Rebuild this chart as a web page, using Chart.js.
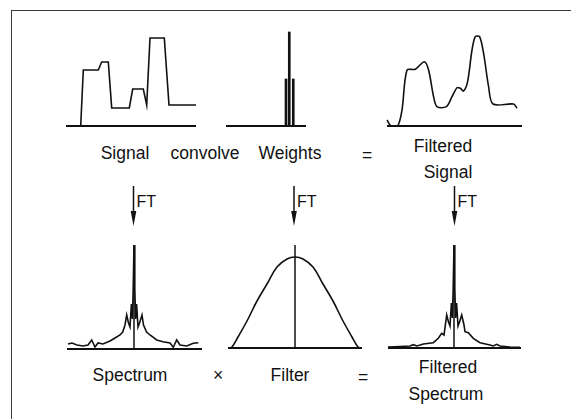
<!DOCTYPE html>
<html><head><meta charset="utf-8">
<script src="https://cdn.jsdelivr.net/npm/chart.js@4.4.0/dist/chart.umd.min.js"></script>
<style>
html,body{margin:0;padding:0;background:#fff;}
#stage{position:relative;width:571px;height:419px;overflow:hidden;background:#fff;font-family:"Liberation Sans",Arial,Helvetica,sans-serif;color:#111;}
#stage canvas{position:absolute;}
#frame{position:absolute;left:11px;top:10px;width:620px;height:480px;border-top:1.5px solid #3a3a3a;border-left:1.5px solid #3a3a3a;}
.lbl{position:absolute;font-size:17.5px;white-space:nowrap;line-height:1;transform:translate(-50%,-50%);}
#arrows{position:absolute;left:0;top:0;}
</style></head><body>
<div id="stage"><div id="frame"></div><svg id="arrows" width="571" height="419"></svg></div>
<script>
// ---- data ----
// Signal (time units, amplitude)
const signalTime = [0, 14.7, 17.3, 32.3, 35.7, 42.3, 45.7, 63.3, 66.7, 77.3, 80.7, 84, 98.3, 103, 130];
const signalAmp  = [0, 0,    56,   56,   64,   64,   18,   18,   37,   37,   21,   88, 88,   21,  21];
// Convolution weights (lag, weight)
const weightLags   = [-0.9, 0, 1.1];
const weightValues = [47, 94, 47];
// Filtered signal
const filteredTime = [0, 4, 10.6, 15, 20, 28.3, 37.3, 41.6, 46.6, 50, 59.3, 65, 70, 73.3, 76.6, 80.6, 85, 88.3, 92.6, 96.6, 101.6, 106, 126.6, 130];
const filteredAmp  = [6, 0, 0,    16, 56, 56.7, 64.3, 56,   29.3, 19.3, 19.3, 29.3, 38.3, 37.7, 35, 44.3, 76, 89.3, 89.3, 72.7, 39.3, 22, 22, 17.7];
// Spectrum (frequency, amplitude)
const spectrumFreq = [-66, -62, -57, -51, -46, -42.3, -39, -36, -31, -24, -19, -14, -11.3, -9, -7.3, -5.5, -4, -2.6, -1.6, -0.8, 0, 0.8, 1.6, 2.6, 4, 5.5, 8, 9.5, 12.6, 16, 22.7, 29, 36, 39.3, 42.7, 46, 52.7, 59.3, 64.3];
const spectrumAmp  = [5,   6,   4,   3,   4,   9,     2,   6,   5,   8,   11,  14,  17,    24, 34,   26,   22, 45,   30,   60,   104, 60, 30, 45, 22, 26, 34, 24, 17, 14, 9, 7.3, 6, 1.7, 9, 4, 3, 5.7, 6.3];
// Filter (frequency, gain)
const filterFreq = [-66, -63, -57, -48, -38, -28, -18, -8, 0, 8, 18, 28, 38, 48, 57, 63, 66];
const filterGain = [0,   1,   11,  27,  47,  64,  81,  89, 91, 89, 81, 64, 47, 27, 11, 1, 0];
// Filtered spectrum
const filteredSpecFreq = [-66, -54, -44, -40.7, -37, -30.7, -20.7, -15.7, -12.3, -10, -7.3, -5.5, -4, -2.6, -1.6, -0.8, 0, 0.8, 1.6, 2.6, 4, 5.5, 7.7, 10, 11, 14.3, 19.3, 26, 36, 39.3, 42.7, 46, 56, 66];
const filteredSpecAmp  = [1,   1.5, 2,   3.3,   2,   4,     5.3,   9.7,   14.7,  13,  33,   26,   22, 45,   30,   60,   103, 60, 30, 45, 22, 26, 33, 23, 16.3, 15.3, 9.7, 5.3, 3, 2, 3.7, 2, 1, 0.7];
// Text labels
const topLabels = ["Signal", "convolve", "Weights", "=", "Filtered", "Signal"];
const bottomLabels = ["Spectrum", "\u00d7", "Filter", "=", "Filtered", "Spectrum"];
const arrowLabel = "FT";

// ---- layout ----
const INK = '#111';
const panels = [
  {name:'signal',  left:66,  top:26,  w:130, h:100, xmin:0,   xmax:130, ymin:0, ymax:100, base:true, center:false},
  {name:'weights', left:226, top:26,  w:80,  h:100, xmin:-17.4, xmax:4.6, ymin:0, ymax:100, base:true, center:false},
  {name:'fsignal', left:387, top:26,  w:135, h:100, xmin:0,   xmax:135, ymin:0, ymax:100, base:true, center:false},
  {name:'spectrum',left:67,  top:245, w:135, h:104, xmin:-67, xmax:68,  ymin:0, ymax:104, base:true, center:true},
  {name:'filter',  left:228, top:245, w:134, h:103, xmin:-67, xmax:67,  ymin:0, ymax:103, base:true, center:true},
  {name:'fspec',   left:388, top:245, w:133, h:103, xmin:-66, xmax:67,  ymin:0, ymax:103, base:true, center:true}
];

function pts(xs, ys){ return xs.map((x,i)=>({x:x, y:ys[i]})); }

const guides = {
  id:'guides',
  afterDatasetsDraw(chart, args, opts){
    const {ctx, chartArea:a, scales:{x, y}} = chart;
    ctx.save();
    ctx.strokeStyle = INK;
    const y0 = y.getPixelForValue(0);
    if (opts.base){
      ctx.lineWidth = 1.8;
      ctx.beginPath(); ctx.moveTo(a.left, y0); ctx.lineTo(a.right, y0); ctx.stroke();
    }
    if (opts.center){
      const x0 = x.getPixelForValue(0);
      ctx.lineWidth = 1.5;
      ctx.beginPath(); ctx.moveTo(x0, a.top); ctx.lineTo(x0, y0); ctx.stroke();
    }
    ctx.restore();
  }
};

const datasetsFor = {
  signal:  [{type:'line', data:pts(signalTime, signalAmp), tension:0}],
  weights: [{type:'bar', data:pts(weightLags, weightValues), barThickness:2, backgroundColor:INK, borderWidth:0}],
  fsignal: [{type:'line', data:pts(filteredTime, filteredAmp), tension:0.3}],
  spectrum:[{type:'line', data:pts(spectrumFreq, spectrumAmp), tension:0}],
  filter:  [{type:'line', data:pts(filterFreq, filterGain), tension:0.4}],
  fspec:   [{type:'line', data:pts(filteredSpecFreq, filteredSpecAmp), tension:0}]
};

const stage = document.getElementById('stage');
const PAD = 4;
panels.forEach(p => {
  const c = document.createElement('canvas');
  c.width = p.w + 2*PAD; c.height = p.h + 2*PAD;
  c.style.left = (p.left - PAD) + 'px'; c.style.top = (p.top - PAD) + 'px';
  c.style.width = c.width + 'px'; c.style.height = c.height + 'px';
  stage.appendChild(c);
  const ds = datasetsFor[p.name].map(d => Object.assign({borderColor:INK, borderWidth:1.6, pointRadius:0, fill:false, clip:false}, d));
  new Chart(c, {
    data:{datasets:ds},
    options:{
      responsive:false, animation:false, devicePixelRatio:1,
      layout:{padding:PAD},
      plugins:{legend:{display:false}, tooltip:{enabled:false}, guides:{base:p.base, center:p.center}},
      scales:{
        x:{type:'linear', display:false, min:p.xmin, max:p.xmax, offset:false},
        y:{type:'linear', display:false, min:p.ymin, max:p.ymax}
      }
    },
    plugins:[guides]
  });
});

// labels
function addLabel(text, cx, cy, size){
  const d = document.createElement('div');
  d.className = 'lbl'; d.textContent = text;
  d.style.left = cx + 'px'; d.style.top = cy + 'px';
  if (size) d.style.fontSize = size + 'px';
  stage.appendChild(d);
}
const topPos = [[125,154],[205,154],[290,154],[367,156],[443,147],[448,173]];
topLabels.forEach((t,i)=>addLabel(t, topPos[i][0], topPos[i][1]));
const botPos = [[130,376],[218,376],[290,376],[363,378],[448,368],[446,395]];
bottomLabels.forEach((t,i)=>addLabel(t, botPos[i][0], botPos[i][1]));

// arrows with FT
const svg = document.getElementById('arrows');
const NS = 'http://www.w3.org/2000/svg';
[133.5, 294, 454.5].forEach(x => {
  const l = document.createElementNS(NS,'line');
  l.setAttribute('x1',x); l.setAttribute('x2',x); l.setAttribute('y1',186); l.setAttribute('y2',214);
  l.setAttribute('stroke',INK); l.setAttribute('stroke-width',1.5);
  svg.appendChild(l);
  const h = document.createElementNS(NS,'polygon');
  h.setAttribute('points', `${x-2.8},${211} ${x+2.8},${211} ${x},${226}`);
  h.setAttribute('fill',INK);
  svg.appendChild(h);
  const d = document.createElement('div');
  d.className='lbl'; d.textContent = arrowLabel; d.style.fontSize='16px';
  d.style.transform='translate(0,-50%)';
  d.style.left=(x+3)+'px'; d.style.top='202px';
  stage.appendChild(d);
});
</script>
</body></html>
